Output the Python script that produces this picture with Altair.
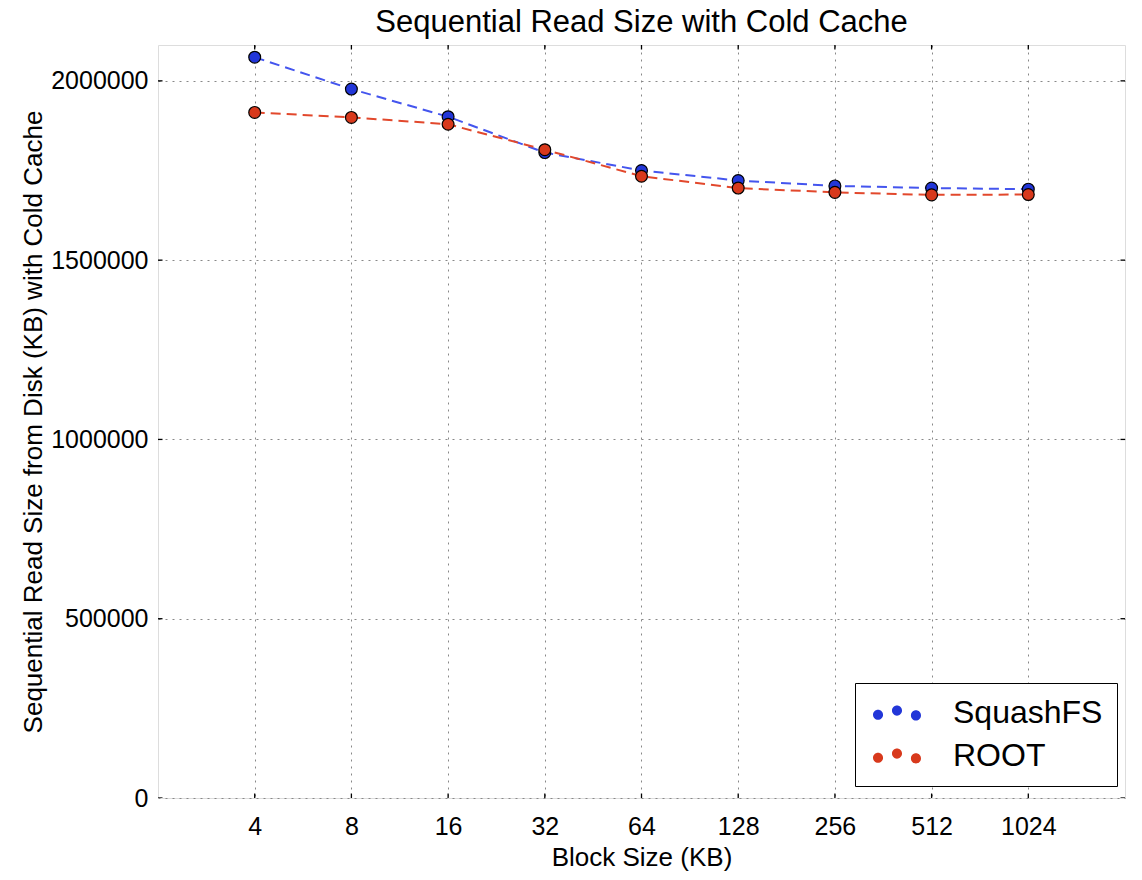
import altair as alt
import pandas as pd

blocks = [4, 8, 16, 32, 64, 128, 256, 512, 1024]
squashfs = [2066000, 1977000, 1900000, 1800000, 1750000, 1722000, 1707000, 1701000, 1698000]
root = [1912000, 1898000, 1879000, 1808000, 1734000, 1701000, 1689000, 1682000, 1683000]
series_names = ["SquashFS", "ROOT"]
point_colors = ["#2236d8", "#d8391c"]
line_colors = ["#4455ee", "#e2482c"]
y_ticks = [0, 500000, 1000000, 1500000, 2000000]
x_domain = [2, 2048]
y_domain = [0, 2100000]

rows = []
for name, vals in zip(series_names, [squashfs, root]):
    for b, v in zip(blocks, vals):
        rows.append({"block": b, "value": v, "series": name})
df = pd.DataFrame(rows)

FONT = "Liberation Sans"

xscale = alt.Scale(type="log", base=2, domain=x_domain, nice=False)
yscale = alt.Scale(domain=y_domain, nice=False, zero=False)

x_enc = alt.X("block:Q", scale=xscale,
              axis=alt.Axis(values=blocks, format="d", title="Block Size (KB)",
                            grid=True, gridColor="#888", gridDash=[2, 5], gridWidth=1,
                            tickSize=0, domain=False, labelPadding=16, titlePadding=5,
                            labelFontSize=25, titleFontSize=26, labelColor="black",
                            titleColor="black", titleFontWeight="normal", labelFont=FONT,
                            titleFont=FONT))
y_enc = alt.Y("value:Q", scale=yscale,
              axis=alt.Axis(values=y_ticks, format="d",
                            title="Sequential Read Size from Disk (KB) with Cold Cache",
                            grid=True, gridColor="#888", gridDash=[2, 5], gridWidth=1,
                            tickSize=0, domain=False, labelPadding=10, titlePadding=4,
                            labelFontSize=25, titleFontSize=26, labelColor="black",
                            titleColor="black", titleFontWeight="normal", labelFont=FONT,
                            titleFont=FONT))

line_layers = []
for name, col in zip(series_names, line_colors):
    line_layers.append(
        alt.Chart(df).transform_filter(alt.datum.series == name)
        .mark_line(strokeDash=[10, 6], strokeWidth=2, color=col)
        .encode(x=x_enc, y=y_enc)
    )

three_dots = ("M -2,0.15 a 0.42,0.42 0 1,0 0.84,0 a 0.42,0.42 0 1,0 -0.84,0 Z "
              "M -0.42,-0.2 a 0.42,0.42 0 1,0 0.84,0 a 0.42,0.42 0 1,0 -0.84,0 Z "
              "M 1.16,0.2 a 0.42,0.42 0 1,0 0.84,0 a 0.42,0.42 0 1,0 -0.84,0 Z")

points = alt.Chart(df).mark_circle(size=140, opacity=1, stroke="black", strokeWidth=1.2).encode(
    x="block:Q", y="value:Q",
    color=alt.Color("series:N", scale=alt.Scale(domain=series_names, range=point_colors),
                    legend=alt.Legend(title=None, orient="none", legendX=697, legendY=638,
                                      symbolType=three_dots, symbolSize=576,
                                      symbolStrokeWidth=0, symbolOffset=12,
                                      labelFontSize=32, labelFont=FONT,
                                      labelColor="black", strokeColor="black", fillColor="white",
                                      padding=14, rowPadding=11, labelOffset=40,
                                      symbolOpacity=1)),
    order=alt.Order("series:N", sort="descending"),
)

tick_df = pd.DataFrame({"block": blocks})
ytick_df = pd.DataFrame({"value": y_ticks})

def tick_layer(data, orient, **enc):
    return alt.Chart(data).mark_tick(orient=orient, size=9, thickness=1.3, color="black",
                                     opacity=1, clip=True).encode(**enc)

xticks_bottom = tick_layer(tick_df, "vertical", x="block:Q", y=alt.datum(y_domain[0]))
xticks_top = tick_layer(tick_df, "vertical", x="block:Q", y=alt.datum(y_domain[1]))
yticks_left = tick_layer(ytick_df, "horizontal", y="value:Q", x=alt.datum(x_domain[0]))
yticks_right = tick_layer(ytick_df, "horizontal", y="value:Q", x=alt.datum(x_domain[1]))

chart = alt.layer(*line_layers, xticks_bottom, xticks_top, yticks_left, yticks_right, points).properties(
    width=967, height=753,
    title=alt.TitleParams("Sequential Read Size with Cold Cache", fontSize=31, font=FONT,
                          fontWeight="normal", color="black", offset=6),
    autosize=alt.AutoSizeParams(type="none"),
    padding={"left": 158, "top": 45, "right": 17, "bottom": 82},
).configure_view(stroke="black", strokeWidth=2).configure(background="white")

chart.save("out.html", embed_options={"renderer": "svg", "actions": False})
